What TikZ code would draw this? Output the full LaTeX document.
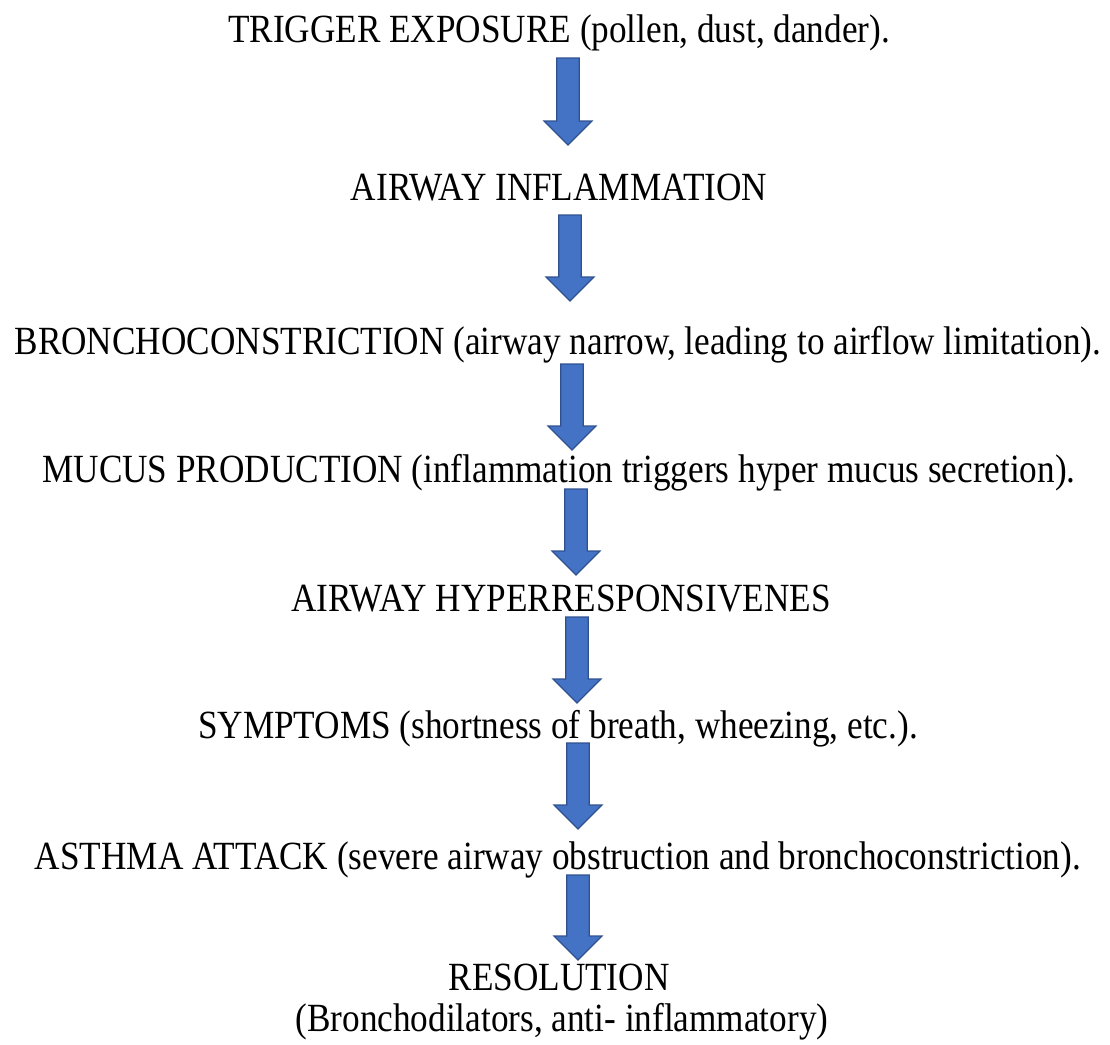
\documentclass[tikz,border=0pt]{standalone}
\usepackage{fontspec}
\setmainfont{Liberation Serif}[FakeStretch=0.88]
\definecolor{arrfill}{HTML}{4472C4}
\definecolor{arrdraw}{HTML}{2F528F}
\begin{document}
\begin{tikzpicture}[x=1pt,y=-1pt,
  steplabel/.style={anchor=base,inner sep=0pt,font=\fontsize{40}{42}\selectfont},
  blockarrow/.style={fill=arrfill,draw=arrdraw,line width=1.2pt,line join=miter}]
\useasboundingbox (0,0) rectangle (1110,1044);
\node[steplabel] (t1) at (559,42) {TRIGGER EXPOSURE (pollen, dust, dander).};
\node[steplabel] (t2) at (559,200) {AIRWAY INFLAMMATION};
\node[steplabel] (t3) at (558,354) {BRONCHOCONSTRICTION (airway narrow, leading to airflow limitation).};
\node[steplabel] (t4) at (559,482) {MUCUS PRODUCTION (inflammation triggers hyper mucus secretion).};
\node[steplabel] (t5) at (561,611) {AIRWAY HYPERRESPONSIVENES};
\node[steplabel] (t6) at (558,738) {SYMPTOMS (shortness of breath, wheezing, etc.).};
\node[steplabel] (t7) at (558,869) {ASTHMA ATTACK (severe airway obstruction and bronchoconstriction).};
\node[steplabel] (t8) at (559,990) {RESOLUTION};
\node[steplabel] (t9) at (562,1031) {(Bronchodilators, anti- inflammatory)};
\foreach \n/\cx/\top/\tip in {1/568/58/145, 2/570/215/301, 3/572/364/450, 4/576/489/575, 5/577/617/703, 6/578/743/829, 7/578/875/960} {
  \coordinate (a\n) at (\cx,\top);
  \draw[blockarrow] (\cx-11.25,\top) -- (\cx+11.25,\top) -- (\cx+11.25,\tip-24) -- (\cx+24,\tip-24) -- (\cx,\tip) -- (\cx-24,\tip-24) -- (\cx-11.25,\tip-24) -- cycle;
}
\end{tikzpicture}
\end{document}
